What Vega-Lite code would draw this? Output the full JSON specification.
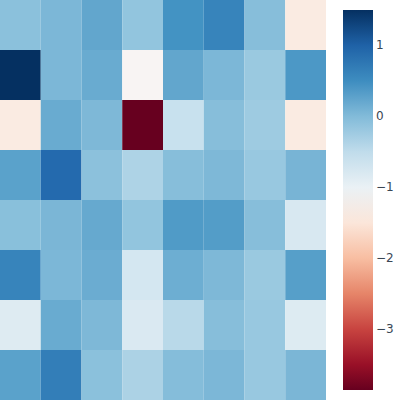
{
  "$schema": "https://vega.github.io/schema/vega-lite/v6.json",
  "width": 326,
  "height": 400,
  "padding": 0,
  "autosize": {"type": "pad"},
  "background": "white",
  "config": {"view": {"stroke": null}},
  "data": {"values": [
    {"r":0,"c":0,"v":-0.06},{"r":0,"c":1,"v":0.04},{"r":0,"c":2,"v":0.22},{"r":0,"c":3,"v":-0.11},{"r":0,"c":4,"v":0.43},{"r":0,"c":5,"v":0.61},{"r":0,"c":6,"v":-0.03},{"r":0,"c":7,"v":-1.41},
    {"r":1,"c":0,"v":1.50},{"r":1,"c":1,"v":0.04},{"r":1,"c":2,"v":0.17},{"r":1,"c":3,"v":-1.23},{"r":1,"c":4,"v":0.22},{"r":1,"c":5,"v":0.04},{"r":1,"c":6,"v":-0.18},{"r":1,"c":7,"v":0.37},
    {"r":2,"c":0,"v":-1.41},{"r":2,"c":1,"v":0.17},{"r":2,"c":2,"v":0.03},{"r":2,"c":3,"v":-3.86},{"r":2,"c":4,"v":-0.57},{"r":2,"c":5,"v":-0.03},{"r":2,"c":6,"v":-0.21},{"r":2,"c":7,"v":-1.41},
    {"r":3,"c":0,"v":0.27},{"r":3,"c":1,"v":0.92},{"r":3,"c":2,"v":-0.07},{"r":3,"c":3,"v":-0.35},{"r":3,"c":4,"v":-0.03},{"r":3,"c":5,"v":0.03},{"r":3,"c":6,"v":-0.16},{"r":3,"c":7,"v":0.07},
    {"r":4,"c":0,"v":-0.05},{"r":4,"c":1,"v":0.05},{"r":4,"c":2,"v":0.19},{"r":4,"c":3,"v":-0.11},{"r":4,"c":4,"v":0.34},{"r":4,"c":5,"v":0.32},{"r":4,"c":6,"v":-0.03},{"r":4,"c":7,"v":-0.74},
    {"r":5,"c":0,"v":0.61},{"r":5,"c":1,"v":0.04},{"r":5,"c":2,"v":0.16},{"r":5,"c":3,"v":-0.69},{"r":5,"c":4,"v":0.14},{"r":5,"c":5,"v":0.03},{"r":5,"c":6,"v":-0.18},{"r":5,"c":7,"v":0.30},
    {"r":6,"c":0,"v":-0.83},{"r":6,"c":1,"v":0.17},{"r":6,"c":2,"v":0.03},{"r":6,"c":3,"v":-0.77},{"r":6,"c":4,"v":-0.44},{"r":6,"c":5,"v":-0.03},{"r":6,"c":6,"v":-0.16},{"r":6,"c":7,"v":-0.81},
    {"r":7,"c":0,"v":0.27},{"r":7,"c":1,"v":0.68},{"r":7,"c":2,"v":-0.06},{"r":7,"c":3,"v":-0.33},{"r":7,"c":4,"v":-0.02},{"r":7,"c":5,"v":0.04},{"r":7,"c":6,"v":-0.16},{"r":7,"c":7,"v":0.05}
  ]},
  "mark": {"type": "rect", "strokeWidth": 0},
  "encoding": {
    "x": {"field": "c", "type": "ordinal", "axis": null, "scale": {"paddingInner": 0, "paddingOuter": 0}},
    "y": {"field": "r", "type": "ordinal", "axis": null, "scale": {"paddingInner": 0, "paddingOuter": 0}},
    "color": {
      "field": "v", "type": "quantitative",
      "scale": {
        "domain": [-3.86, -3.324, -2.788, -2.252, -1.716, -1.18, -0.644, -0.108, 0.428, 0.964, 1.5],
        "range": ["#67001f","#b2182b","#d6604d","#f4a582","#fddbc7","#f7f7f7","#d1e5f0","#92c5de","#4393c3","#2166ac","#053061"],
        "interpolate": "rgb",
        "nice": false, "zero": false
      },
      "legend": {
        "title": null,
        "orient": "none",
        "legendX": 343,
        "legendY": 10,
        "direction": "vertical",
        "gradientLength": 380,
        "gradientThickness": 30,
        "gradientStrokeWidth": 0,
        "values": [-3, -2, -1, 0, 1],
        "format": "d",
        "labelFont": "DejaVu Sans",
        "labelFontSize": 12,
        "labelColor": "#3a4654",
        "labelOffset": 3,
        "labelOverlap": false,
        "padding": 0
      }
    }
  }
}
